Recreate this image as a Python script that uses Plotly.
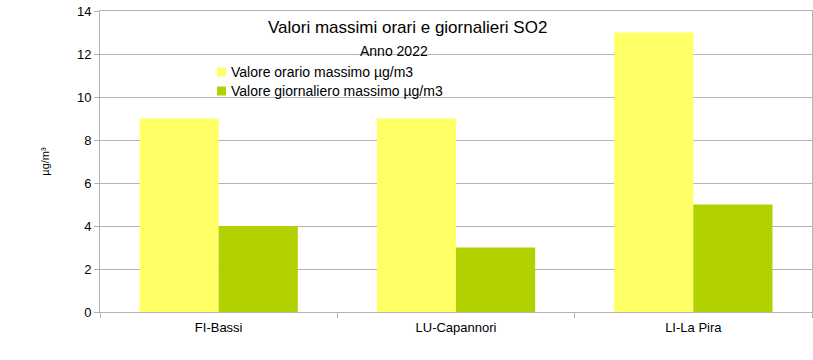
import plotly.graph_objects as go

categories = ["FI-Bassi", "LU-Capannori", "LI-La Pira"]
orario_max = [9, 9, 13]
giornaliero_max = [4, 3, 5]
series_names = ["Valore orario massimo µg/m3", "Valore giornaliero massimo µg/m3"]
series_colors = ["#ffff66", "#b3d100"]
y_ticks = [0, 2, 4, 6, 8, 10, 12, 14]

W, H = 813, 360
ML, MR, MT, MB = 100, 1, 11, 48
plot_w = W - ML - MR
plot_h = H - MT - MB


def px(x):  # page pixel x -> paper
    return (x - ML) / plot_w


def py(y):  # page pixel y -> paper
    return 1 - (y - MT) / plot_h


fig = go.Figure()
for vals, name, col in zip([orario_max, giornaliero_max], series_names, series_colors):
    fig.add_trace(go.Bar(x=categories, y=vals, name=name, showlegend=False,
                         marker=dict(color=col, line=dict(width=0))))

font = "Liberation Sans, Arial, sans-serif"
annotations = [
    dict(text="Valori massimi orari e giornalieri SO2", x=px(407), y=py(27),
         xref="paper", yref="paper", xanchor="center", yanchor="middle",
         showarrow=False, font=dict(size=17, family=font, color="#000000")),
    dict(text="Anno 2022", x=px(394), y=py(51),
         xref="paper", yref="paper", xanchor="center", yanchor="middle",
         showarrow=False, font=dict(size=14, family=font, color="#000000")),
]
shapes = []
# legend drawn as shapes + text
for i, (name, col) in enumerate(zip(series_names, series_colors)):
    yc = 72 + i * 19
    shapes.append(dict(type="rect", xref="paper", yref="paper",
                       x0=px(217), x1=px(226), y0=py(yc - 4.5), y1=py(yc + 4.5),
                       fillcolor=col, line=dict(width=0), layer="above"))
    annotations.append(dict(text=name, x=px(229), y=py(yc), xref="paper", yref="paper",
                            xanchor="left", yanchor="middle", showarrow=False,
                            font=dict(size=14, family=font, color="#000000")))

fig.update_layout(
    width=W, height=H,
    margin=dict(l=ML, r=MR, t=MT, b=MB, autoexpand=False),
    paper_bgcolor="white", plot_bgcolor="white",
    barmode="group", bargap=0.333, bargroupgap=0,
    font=dict(family=font, size=13, color="#000000"),
    showlegend=False,
    annotations=annotations,
    shapes=shapes,
)

fig.update_yaxes(range=[0, 14], tickvals=y_ticks, showgrid=True, gridcolor="#b3b3b3",
                 gridwidth=1, showline=True, linecolor="#b3b3b3", linewidth=1, mirror=True,
                 ticks="outside", ticklen=5, tickcolor="#b3b3b3", zeroline=False,
                 automargin=False, ticklabeloverflow="allow",
                 title=dict(text="µg/m³", font=dict(size=11, family=font), standoff=25),
                 tickfont=dict(size=13, color="#000000"))
fig.update_xaxes(showline=True, linecolor="#b3b3b3", linewidth=1, mirror=True,
                 ticks="outside", ticklen=5, tickcolor="#b3b3b3", tickson="boundaries",
                 automargin=False, ticklabelstandoff=3,
                 tickfont=dict(size=13, color="#000000"), showgrid=False)

# remove the browser's default 8px body margin so the figure fills the window
fig.write_html("out.html", config={"displayModeBar": False},
               post_script="document.body.style.margin='0';")
